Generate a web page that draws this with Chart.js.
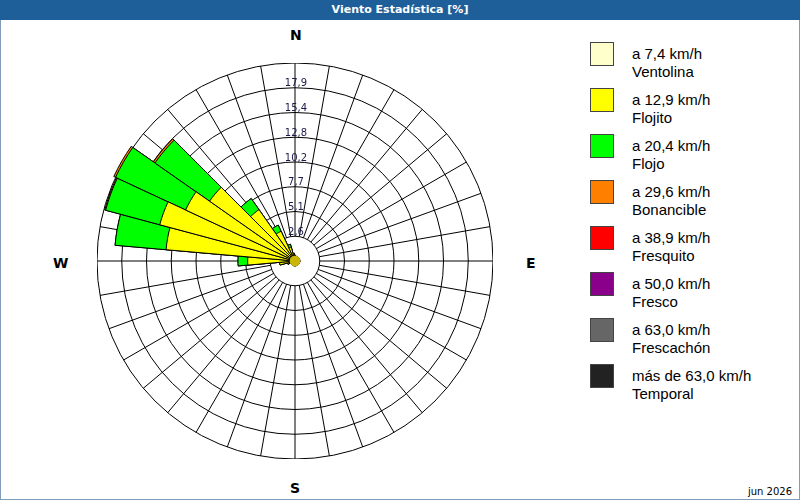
<!DOCTYPE html>
<html><head><meta charset="utf-8">
<script src="https://cdn.jsdelivr.net/npm/chart.js@4"></script>
<style>
body{margin:0;width:800px;height:500px;position:relative;font-family:"DejaVu Sans",sans-serif;background:#fff;overflow:hidden}
#frame{position:absolute;left:0;top:0;width:798px;height:498px;border:1px solid #7f9db9}
#title{position:absolute;left:0;top:0;width:800px;height:20px;background:#1f5f99;color:#fff;font-weight:bold;font-size:11px;line-height:20px;text-align:center}
#wrap{position:absolute;left:97px;top:63px;width:396px;height:396px}
.lg{position:absolute;left:590px;font-family:"Liberation Sans",Arial,sans-serif;font-size:15px;line-height:18px;color:#000}
.lg span{position:absolute;left:0;top:0;width:22px;height:22px;border:1px solid #444}
.lg div{position:absolute;left:42px;top:3px;white-space:nowrap}
#date{position:absolute;right:8px;bottom:3px;font-size:10px;font-family:"DejaVu Sans",sans-serif}
.card{position:absolute;font-weight:bold;font-size:14px;font-family:"DejaVu Sans",sans-serif}
</style></head><body>
<div id="frame"></div>
<div id="title">Viento Estadística [%]</div>
<div id="wrap"><canvas id="c"></canvas></div>
<div id="legend"></div>
<div id="date">jun 2026</div>
<script>
const directions = Array.from({length:36},(_,i)=>String(i*10));
const ventolina = [0.5,0.5,0.5,0.5,0.5,0.5,0.5,0.5,0.5,0.5,0.5,0.5,0.5,0.5,0.5,0.5,0.5,0.5,0.5,0.5,0.5,0.5,0.5,0.5,0.5,0.5,0.5,0.5,0.5,0.5,0.5,0.5,0.5,0.5,0.5,0.5];
// increments by category, index = direction/10
const flojito =   [0.1,0,0,0,0,0,0,0,0,0,0,0,0,0,0,0,0,0,0,0,0,0,0,0,0,0.3,1.1,4.4,12.9,14.0,12.0,10.3,6.0,2.9,1.0,0.3];
const flojo =     [0,0,0,0,0,0,0,0,0,0,0,0,0,0,0,0,0,0,0,0,0,0,0,0,0,0,0,1.0,5.3,5.8,8.0,6.9,1.4,0.7,0.3,0];
const bonancible= [0,0,0,0,0,0,0,0,0,0,0,0,0,0,0,0,0,0,0,0,0,0,0,0,0,0,0,0,0,0.1,0.2,0.2,0,0,0,0];
const tickValues = [2.5625,5.125,7.6875,10.25,12.8125,15.375,17.9375,20.5];
const tickLabels = ["2,6","5,1","7,7","10,2","12,8","15,4","17,9","20,5"];
const legendItems = [["a 7,4 km/h","Ventolina","#ffffcc"],["a 12,9 km/h","Flojito","#ffff00"],["a 20,4 km/h","Flojo","#00ff00"],["a 29,6 km/h","Bonancible","#ff8000"],["a 38,9 km/h","Fresquito","#ff0000"],["a 50,0 km/h","Fresco","#8b008b"],["a 63,0 km/h","Frescachón","#666666"],["más de 63,0 km/h","Temporal","#222222"]];

const lg=document.getElementById('legend');
legendItems.forEach((it,i)=>{const d=document.createElement('div');d.className='lg';d.style.top=(42+i*46)+'px';
d.innerHTML='<span style="background:'+it[2]+'"></span><div>'+it[0]+'<br>'+it[1]+'</div>';lg.appendChild(d);});
[['N',290,27],['S',290,480],['W',53,255],['E',526,255]].forEach(c=>{const d=document.createElement('div');d.className='card';d.textContent=c[0];d.style.left=c[1]+'px';d.style.top=c[2]+'px';document.body.appendChild(d);});

const cum1 = flojito.map((v,i)=>v+ventolina[i]);
const cum2 = flojo.map((v,i)=>v+cum1[i]);
const cum3 = bonancible.map((v,i)=>v+cum2[i]);

const spokes={id:'spokes',beforeDatasetsDraw(ch){const s=ch.scales.r,ctx=ch.ctx;const r0=s.getDistanceFromCenterForValue(tickValues[0]),r1=s.drawingArea;
ctx.save();ctx.strokeStyle='#000';ctx.lineWidth=1;for(let i=0;i<36;i++){const a=i*Math.PI/18-Math.PI/2;ctx.beginPath();ctx.moveTo(s.xCenter+r0*Math.cos(a),s.yCenter+r0*Math.sin(a));ctx.lineTo(s.xCenter+r1*Math.cos(a),s.yCenter+r1*Math.sin(a));ctx.stroke();}ctx.restore();},
afterDatasetsDraw(ch){const s=ch.scales.r,ctx=ch.ctx;ctx.save();ctx.fillStyle='#1a1a4a';ctx.font='10px "DejaVu Sans"';ctx.textAlign='center';ctx.textBaseline='bottom';
tickValues.forEach((v,i)=>{ctx.fillText(tickLabels[i],s.xCenter+1,s.yCenter-s.getDistanceFromCenterForValue(v)+1);});ctx.restore();}};

new Chart(document.getElementById('c'),{type:'polarArea',
data:{labels:directions,datasets:[
{data:ventolina,backgroundColor:'#ffffcc',borderColor:'#c8b400',borderWidth:1},
{data:cum1,backgroundColor:'#ffff00',borderColor:'#000',borderWidth:1},
{data:cum2,backgroundColor:'#00ff00',borderColor:'#000',borderWidth:1},
{data:cum3,backgroundColor:'#ff8000',borderColor:'#000',borderWidth:1}]},
options:{responsive:true,maintainAspectRatio:false,animation:false,layout:{padding:0},
plugins:{legend:{display:false},tooltip:{enabled:false}},
scales:{r:{min:0,max:20.5,startAngle:-5,ticks:{display:false,stepSize:2.5625},
grid:{circular:true,color:'#000',lineWidth:1},angleLines:{display:false},pointLabels:{display:false}}}},
plugins:[spokes]});
</script></body></html>
